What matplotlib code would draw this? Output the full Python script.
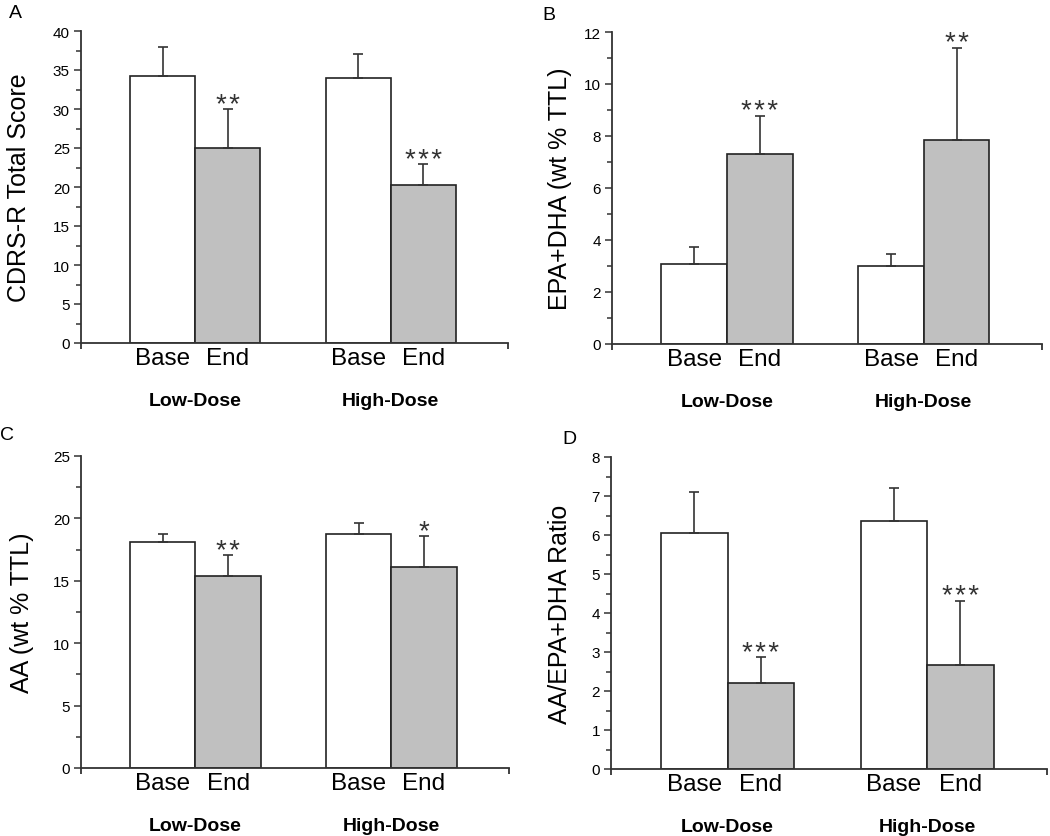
import numpy as np
import matplotlib
matplotlib.use("Agg")
import matplotlib.pyplot as plt
from matplotlib.ticker import MultipleLocator

plt.rcParams['font.family'] = ['Liberation Sans', 'DejaVu Sans']

groups = ["Low-Dose", "High-Dose"]
phases = ["Base", "End"]

# panel A: CDRS-R total score
cdrs_base = [34.2, 34.0]
cdrs_end = [25.0, 20.3]
cdrs_base_err = [3.8, 3.0]
cdrs_end_err = [5.0, 2.6]
cdrs_stars = ["**", "***"]

# panel B: EPA+DHA
epa_base = [3.06, 2.99]
epa_end = [7.32, 7.86]
epa_base_err = [0.67, 0.48]
epa_end_err = [1.46, 3.54]
epa_stars = ["***", "**"]

# panel C: AA
aa_base = [18.07, 18.71]
aa_end = [15.35, 16.10]
aa_base_err = [0.72, 0.93]
aa_end_err = [1.68, 2.50]
aa_stars = ["**", "*"]

# panel D: AA/EPA+DHA ratio
ratio_base = [6.06, 6.37]
ratio_end = [2.20, 2.67]
ratio_base_err = [1.05, 0.84]
ratio_end_err = [0.66, 1.65]
ratio_stars = ["***", "***"]

W, H = 1050, 837
fig = plt.figure(figsize=(W / 100, H / 100), dpi=100)


def panel(rect_px, letter, letter_xy, ylabel, ylabel_dx, ymax, major, minor,
          base, end, base_err, end_err, stars):
    l, r, t, b = rect_px
    ax = fig.add_axes([l / W, 1 - b / H, (r - l) / W, (b - t) / H])
    centers = np.arange(1, len(groups) + 1)
    bw = 0.333
    xb = centers - bw / 2
    xe = centers + bw / 2
    ek = dict(ecolor="#333333", elinewidth=1.2, capsize=3.6, capthick=1.2)
    ax.bar(xb, base, bw, color="white", edgecolor="#222222", linewidth=1.2,
           yerr=[np.zeros(len(base)), base_err], error_kw=ek, zorder=2)
    ax.bar(xe, end, bw, color="#c0c0c0", edgecolor="#222222", linewidth=1.2,
           yerr=[np.zeros(len(end)), end_err], error_kw=ek, zorder=2)
    # significance stars sit just above the error bar caps
    for x, v, e, s in zip(xe, end, end_err, stars):
        ax.annotate("\u200a".join(s), xy=(x, v + e), xytext=(0, -2),
                    textcoords="offset points", ha="center", va="baseline",
                    fontsize=20, color="#333333")

    xmin, xmax = 0.416, 2.6
    ax.set_xlim(xmin, xmax)
    ax.set_ylim(0, ymax)
    ax.spines[["top", "right"]].set_visible(False)
    for sp in ("left", "bottom"):
        ax.spines[sp].set_color("#333333")
        ax.spines[sp].set_linewidth(1.3)

    ax.set_xticks(np.concatenate([xb, xe]), [phases[0]] * len(xb) + [phases[1]] * len(xe))
    ax.set_xticks([xmin, xmax], minor=True)
    ax.tick_params(axis="x", which="major", length=0, pad=3, labelsize=17.5)
    ax.tick_params(axis="x", which="minor", length=4, width=1.3, color="#333333")

    ax.yaxis.set_major_locator(MultipleLocator(major))
    ax.yaxis.set_minor_locator(MultipleLocator(minor))
    ax.tick_params(axis="y", which="major", length=5, width=1.1, color="#333333",
                   labelsize=11, pad=3)
    ax.tick_params(axis="y", which="minor", length=3.5, width=1.1, color="#333333")

    ax.set_ylabel(ylabel, fontsize=18, va="center")
    ax.yaxis.set_label_coords(-ylabel_dx / (r - l), 0.5)

    for c, g in zip(centers, groups):
        ax.annotate(g, xy=(c, 0), xycoords=("data", "axes fraction"),
                    xytext=(0, -58 * 0.72), textcoords="offset points",
                    ha="center", va="center", fontsize=14, fontweight="bold")

    fig.text(letter_xy[0] / W, 1 - letter_xy[1] / H, letter, fontsize=14,
             ha="center", va="center")
    return ax


panel((81, 508, 32, 344), "A", (15, 13), "CDRS-R Total Score", 62, 40, 5, 2.5,
      cdrs_base, cdrs_end, cdrs_base_err, cdrs_end_err, cdrs_stars)
panel((612, 1042, 33, 345), "B", (549, 15), "EPA+DHA (wt % TTL)", 52, 12, 2, 1,
      epa_base, epa_end, epa_base_err, epa_end_err, epa_stars)
panel((81, 509, 457, 769), "C", (7, 436), "AA (wt % TTL)", 59, 25, 5, 2.5,
      aa_base, aa_end, aa_base_err, aa_end_err, aa_stars)
panel((611, 1047, 458, 770), "D", (569, 440), "AA/EPA+DHA Ratio", 51, 8, 1, 0.5,
      ratio_base, ratio_end, ratio_base_err, ratio_end_err, ratio_stars)

fig.savefig("out.png", dpi=100)
